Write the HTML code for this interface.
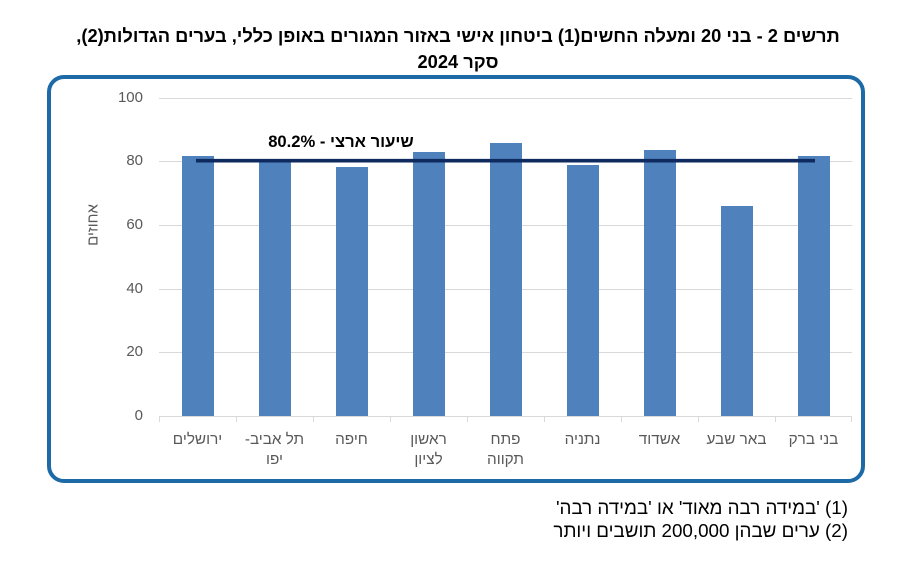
<!DOCTYPE html>
<html><head><meta charset="utf-8"><style>
html,body{margin:0;padding:0;background:#fff;}
body{width:897px;height:563px;position:relative;overflow:hidden;font-family:"Liberation Sans","Noto Sans CJK SC",sans-serif;}
.t{position:absolute;white-space:nowrap;}
.title{left:0;width:916px;text-align:center;font-weight:bold;font-size:18.3px;color:#000;line-height:26px;direction:rtl;}
.yl{position:absolute;width:40px;text-align:right;font-size:15px;color:#595959;line-height:18px;}
.xl{position:absolute;width:77px;text-align:center;font-size:15.3px;color:#595959;line-height:20px;direction:rtl;}
.fn{position:absolute;right:49px;font-size:18.8px;line-height:23px;color:#000;direction:rtl;text-align:right;white-space:nowrap;}
</style></head><body>
<div class="t title" style="top:23px;">תרשים 2 - בני 20 ומעלה החשים(1) ביטחון אישי באזור המגורים באופן כללי, בערים הגדולות(2),</div>
<div class="t title" style="top:49px;">סקר 2024</div>

<div style="position:absolute;left:47px;top:75px;width:810px;height:400px;border:4px solid #1d6aa6;border-radius:17px;"></div>

<svg width="897" height="563" style="position:absolute;left:0;top:0;" xmlns="http://www.w3.org/2000/svg">
  <g stroke="#d9d9d9" stroke-width="1">
    <line x1="159" y1="98.5" x2="852" y2="98.5"/>
    <line x1="159" y1="161.5" x2="852" y2="161.5"/>
    <line x1="159" y1="225.5" x2="852" y2="225.5"/>
    <line x1="159" y1="289.5" x2="852" y2="289.5"/>
    <line x1="159" y1="352.5" x2="852" y2="352.5"/>
    <line x1="159" y1="416.5" x2="852" y2="416.5"/>
    <line x1="159.5" y1="416" x2="159.5" y2="422"/>
    <line x1="236.5" y1="416" x2="236.5" y2="422"/>
    <line x1="313.5" y1="416" x2="313.5" y2="422"/>
    <line x1="390.5" y1="416" x2="390.5" y2="422"/>
    <line x1="467.5" y1="416" x2="467.5" y2="422"/>
    <line x1="544.5" y1="416" x2="544.5" y2="422"/>
    <line x1="621.5" y1="416" x2="621.5" y2="422"/>
    <line x1="698.5" y1="416" x2="698.5" y2="422"/>
    <line x1="775.5" y1="416" x2="775.5" y2="422"/>
    <line x1="851.5" y1="416" x2="851.5" y2="422"/>
  </g>
  <g fill="#4f81bd">
    <rect x="182" y="156" width="32" height="260"/>
    <rect x="259" y="160" width="32" height="256"/>
    <rect x="336" y="167" width="32" height="249"/>
    <rect x="413" y="152" width="32" height="264"/>
    <rect x="490" y="143" width="32" height="273"/>
    <rect x="567" y="165" width="32" height="251"/>
    <rect x="644" y="150" width="32" height="266"/>
    <rect x="721" y="206" width="32" height="210"/>
    <rect x="798" y="156" width="32" height="260"/>
  </g>
  <line x1="196" y1="160.7" x2="815" y2="160.7" stroke="#0e2a5e" stroke-width="3.6"/>
  <text x="93" y="225" font-family="Liberation Sans, sans-serif" font-size="15" fill="#595959" text-anchor="middle" dominant-baseline="central" transform="rotate(-90 93 225)" direction="rtl">אחוזים</text>
</svg>

<div class="t" style="left:255px;top:132px;width:172px;text-align:center;font-weight:bold;font-size:16.6px;line-height:20px;color:#000;direction:rtl;">שיעור ארצי - 80.2%</div>

<div class="yl" style="left:103px;top:89px;">100</div>
<div class="yl" style="left:103px;top:152px;">80</div>
<div class="yl" style="left:103px;top:216px;">60</div>
<div class="yl" style="left:103px;top:280px;">40</div>
<div class="yl" style="left:103px;top:343px;">20</div>
<div class="yl" style="left:103px;top:407px;">0</div>

<div class="xl" style="left:159px;top:430px;">ירושלים</div>
<div class="xl" style="left:236px;top:430px;">תל אביב-<br>יפו</div>
<div class="xl" style="left:313px;top:430px;">חיפה</div>
<div class="xl" style="left:390px;top:430px;">ראשון<br>לציון</div>
<div class="xl" style="left:467px;top:430px;">פתח<br>תקווה</div>
<div class="xl" style="left:544px;top:430px;">נתניה</div>
<div class="xl" style="left:621px;top:430px;">אשדוד</div>
<div class="xl" style="left:698px;top:430px;">באר שבע</div>
<div class="xl" style="left:775px;top:430px;">בני ברק</div>

<div class="fn" style="top:496px;">(1) 'במידה רבה מאוד' או 'במידה רבה'</div>
<div class="fn" style="top:519px;">(2) ערים שבהן 200,000 תושבים ויותר</div>
</body></html>
